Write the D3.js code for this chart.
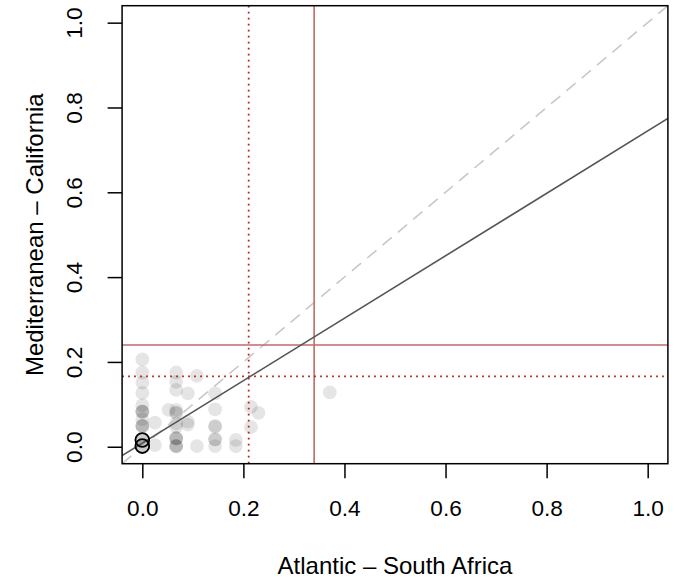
<!DOCTYPE html>
<html><head><meta charset="utf-8">
<script src="https://cdn.jsdelivr.net/npm/d3@7"></script>
<style>body{margin:0;background:#fff}</style>
</head><body><svg id="c" width="674" height="588"></svg>
<script>
// ---- data ----
const ptX = [
  0,0,0,0,0,0,0,0,0,0,0,0,0,0,0,0,
  0.025,0.025,
  0.052,
  0.067,0.067,0.067,0.067,0.067,0.067,0.067,0.067,0.067,0.067,0.067,0.067,0.067,0.067,
  0.09,0.09,0.09,
  0.108,0.108,
  0.144,0.144,0.144,0.144,0.144,0.144,0.144,
  0.185,0.185,
  0.215,0.215,
  0.230,
  0.371
];
const ptY = [
  0.206,0.175,0.151,0.127,0.098,0.083,0.083,0.083,0.065,0.049,0.049,0.049,0.016,0.016,0.0015,0.0015,
  0.057,0.004,
  0.087,
  0.175,0.153,0.134,0.087,0.080,0.080,0.055,0.047,0.020,0.020,0.020,0.0015,0.0015,0.0015,
  0.126,0.059,0.052,
  0.167,0.0015,
  0.126,0.088,0.049,0.047,0.0175,0.0175,0.0015,
  0.016,0.0015,
  0.094,0.046,
  0.080,
  0.128
];
const ringX = [0, 0];
const ringY = [0.016, 0.0015];
const xTicks = [0, 0.2, 0.4, 0.6, 0.8, 1.0];
const yTicks = [0, 0.2, 0.4, 0.6, 0.8, 1.0];
const xLabel = "Atlantic – South Africa";
const yLabel = "Mediterranean – California";
const regIntercept = 0.0087, regSlope = 0.736;
const solidX = 0.34, solidY = 0.24;
const dotX = 0.2105, dotY = 0.166;
const domain = [-0.04, 1.04];

// ---- drawing ----
const svg = d3.select("#c");
const L = 122.1, R = 667.9, T = 5.7, B = 463.7;
const x = d3.scaleLinear().domain(domain).range([L, R]);
const y = d3.scaleLinear().domain(domain).range([B, T]);
const font = "'Liberation Sans', Arial, Helvetica, sans-serif";

svg.append("defs").append("clipPath").attr("id","clip")
  .append("rect").attr("x",L).attr("y",T).attr("width",R-L).attr("height",B-T);

const g = svg.append("g").attr("clip-path","url(#clip)");

// points
g.selectAll("circle.pt").data(d3.range(ptX.length)).join("circle")
  .attr("class","pt")
  .attr("cx", i => x(ptX[i])).attr("cy", i => y(ptY[i])).attr("r", 6.9)
  .attr("fill", "#000").attr("fill-opacity", 0.1);

// y = x dashed
g.append("line")
  .attr("x1", x(domain[0])).attr("y1", y(domain[0]))
  .attr("x2", x(domain[1])).attr("y2", y(domain[1]))
  .attr("stroke","#c8c8c8").attr("stroke-width",1.6).attr("stroke-dasharray","12,8");

// red solid lines
g.append("line").attr("x1", x(solidX)).attr("x2", x(solidX)).attr("y1", T).attr("y2", B)
  .attr("stroke","#c06a6a").attr("stroke-width",1.6);
g.append("line").attr("y1", y(solidY)).attr("y2", y(solidY)).attr("x1", L).attr("x2", R)
  .attr("stroke","#c06a6a").attr("stroke-width",1.6);

// red dotted lines
g.append("line").attr("x1", x(dotX)).attr("x2", x(dotX)).attr("y1", T).attr("y2", B)
  .attr("stroke","#b22222").attr("stroke-width",1.8).attr("stroke-dasharray","1.8,4.2");
g.append("line").attr("y1", y(dotY)).attr("y2", y(dotY)).attr("x1", L).attr("x2", R)
  .attr("stroke","#b22222").attr("stroke-width",1.8).attr("stroke-dasharray","1.8,4.2");

// regression line
g.append("line")
  .attr("x1", x(domain[0])).attr("y1", y(regIntercept + regSlope*domain[0]))
  .attr("x2", x(domain[1])).attr("y2", y(regIntercept + regSlope*domain[1]))
  .attr("stroke","#555").attr("stroke-width",1.6);

// black rings
g.selectAll("circle.ring").data(d3.range(ringX.length)).join("circle")
  .attr("class","ring")
  .attr("cx", i => x(ringX[i])).attr("cy", i => y(ringY[i])).attr("r", 6.9)
  .attr("fill","none").attr("stroke","#000").attr("stroke-width",1.8);

// box
svg.append("rect").attr("x",L).attr("y",T).attr("width",R-L).attr("height",B-T)
  .attr("fill","none").attr("stroke","#000").attr("stroke-width",1.5);

// x axis
const xa = svg.append("g").attr("transform",`translate(0,${B})`)
  .call(d3.axisBottom(x).tickValues(xTicks).tickFormat(d3.format(".1f")).tickSize(14.5).tickSizeOuter(0));
xa.select(".domain").remove();
xa.selectAll(".tick line").attr("stroke","#000").attr("stroke-width",1.5);
xa.selectAll(".tick text").attr("y",null).attr("dy",null)
  .attr("transform",`translate(0,${516-B})`)
  .attr("font-family",font).attr("font-size",22.6).attr("fill","#000");

// y axis
const ya = svg.append("g").attr("transform",`translate(${L},0)`)
  .call(d3.axisLeft(y).tickValues(yTicks).tickFormat(d3.format(".1f")).tickSize(14.5).tickSizeOuter(0));
ya.select(".domain").remove();
ya.selectAll(".tick line").attr("stroke","#000").attr("stroke-width",1.5);
ya.selectAll(".tick text").attr("x",null).attr("dy",null)
  .attr("text-anchor","middle")
  .attr("transform",`translate(${81.7-L},0) rotate(-90)`)
  .attr("font-family",font).attr("font-size",22.6).attr("fill","#000");

// titles
svg.append("text").attr("x",(L+R)/2).attr("y",574).attr("text-anchor","middle")
  .attr("font-family",font).attr("font-size",24).attr("fill","#000").text(xLabel);
svg.append("text").attr("transform",`translate(42.5,${(T+B)/2}) rotate(-90)`)
  .attr("text-anchor","middle")
  .attr("font-family",font).attr("font-size",24).attr("fill","#000").text(yLabel);
</script>
</body></html>
